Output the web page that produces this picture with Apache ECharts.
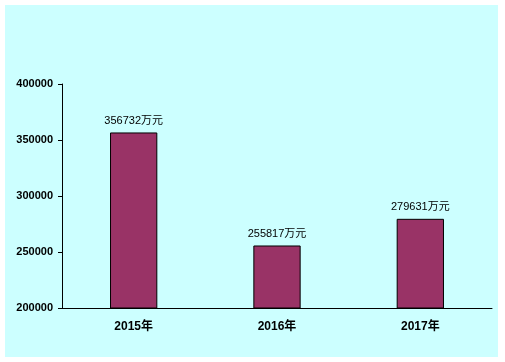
<!DOCTYPE html>
<html><head><meta charset="utf-8">
<script src="https://cdn.jsdelivr.net/npm/echarts@6/dist/echarts.min.js"></script>
<style>html,body{margin:0;padding:0;background:#fff}#c{width:505px;height:362px}</style>
</head><body><div id="c"></div>
<script>
var categories = ['2015年', '2016年', '2017年'];
var values = [356732, 255817, 279631];
var unit = '万元';
var yMin = 200000, yMax = 400000, yStep = 50000;

var chart = echarts.init(document.getElementById('c'), null, {renderer: 'canvas'});
var font = '"Liberation Sans", Arial, "Noto Sans CJK SC", sans-serif';
chart.setOption({
  backgroundColor: '#ffffff',
  animation: false,
  graphic: [{type: 'rect', shape: {x: 5, y: 5, width: 493, height: 352}, style: {fill: '#CCFFFF'}, z: -10, silent: true}],
  grid: {left: 62, right: 13, top: 84, bottom: 54},
  xAxis: {
    type: 'category', data: categories,
    axisLine: {lineStyle: {color: '#000', width: 1}},
    axisTick: {inside: true, length: 4, lineStyle: {color: '#000'}},
    axisLabel: {color: '#000', fontWeight: 'bold', fontSize: 12, fontFamily: font, margin: 13}
  },
  yAxis: {
    type: 'value', min: yMin, max: yMax, interval: yStep,
    axisLine: {show: true, lineStyle: {color: '#000', width: 1}},
    axisTick: {show: true, length: 4, lineStyle: {color: '#000'}},
    splitLine: {show: false},
    axisLabel: {color: '#000', fontWeight: 'bold', fontSize: 11, fontFamily: font, margin: 9,
      formatter: function(v){ return String(v); }}
  },
  series: [{
    type: 'bar', data: values, barWidth: '33%',
    itemStyle: {color: '#993366', borderColor: '#000', borderWidth: 1},
    label: {show: true, position: 'top', distance: 6, color: '#000', fontSize: 11, fontFamily: font,
      formatter: function(p){ return p.value + unit; }}
  }]
});
</script></body></html>
